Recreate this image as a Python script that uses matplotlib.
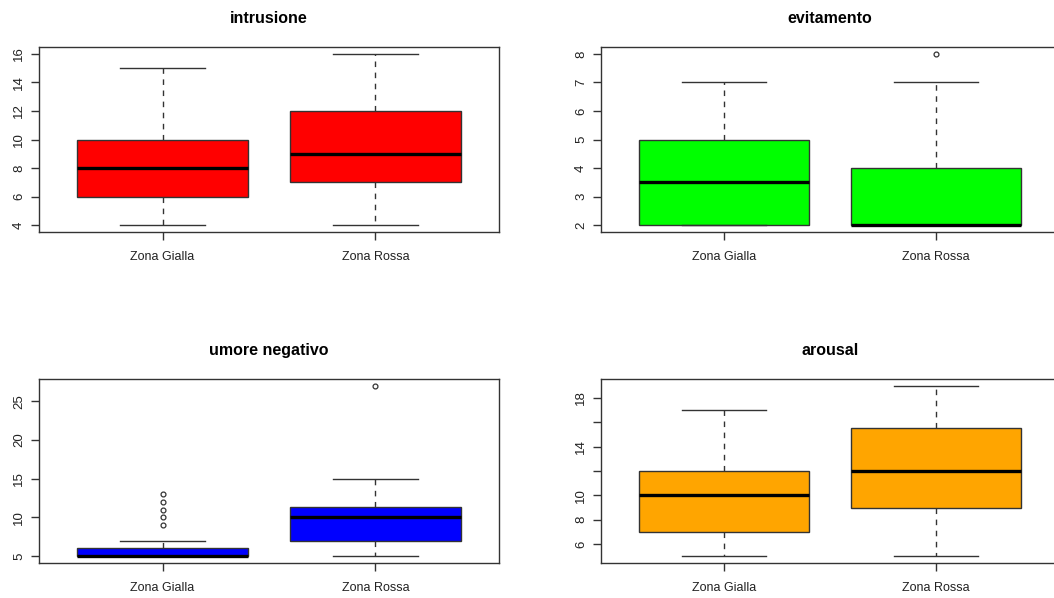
import numpy as np
import matplotlib
matplotlib.use("Agg")
import matplotlib.pyplot as plt

plt.rcParams['font.family'] = ['Liberation Sans', 'DejaVu Sans']

gruppi = ["Zona Gialla", "Zona Rossa"]

# five-number summaries per group: whislo, q1, med, q3, whishi
intrusione = [[4, 6, 8, 10, 15], [4, 7, 9, 12, 16]]
intrusione_out = [[], []]

evitamento = [[2, 2, 3.5, 5, 7], [2, 2, 2, 4, 7]]
evitamento_out = [[], [8]]

umore_neg = [[5, 5, 5, 6, 7], [5, 7, 10, 11.4, 15]]
umore_neg_out = [[9, 10, 11, 12, 13], [27]]

arousal = [[5, 7, 10, 12, 17], [5, 9, 12, 15.5, 19]]
arousal_out = [[], []]

pannelli = [
    ("intrusione", intrusione, intrusione_out, "#FF0000", [4, 6, 8, 10, 12, 14, 16], None),
    ("evitamento", evitamento, evitamento_out, "#00FF00", [2, 3, 4, 5, 6, 7, 8], None),
    ("umore negativo", umore_neg, umore_neg_out, "#0000FF", [5, 10, 15, 20, 25], None),
    ("arousal", arousal, arousal_out, "#FFA500", [6, 8, 10, 12, 14, 16, 18],
     ["6", "8", "10", "", "14", "", "18"]),
]

W, H = 1054, 598
# axes boxes in pixels: left, top, right, bottom
box_px = [(39, 47, 499, 232), (601, 47, 1059, 232),
          (39, 379, 499, 563), (601, 379, 1059, 563)]

fig = plt.figure(figsize=(W / 100, H / 100), dpi=100)
grigio = "#333333"

for (titolo, stats, outl, col, yt, ytl), (l, t, r, b) in zip(pannelli, box_px):
    ax = fig.add_axes([l / W, 1 - b / H, (r - l) / W, (b - t) / H])
    bxp_stats = []
    for nome, s, o in zip(gruppi, stats, outl):
        bxp_stats.append(dict(label=nome, whislo=s[0], q1=s[1], med=s[2],
                              q3=s[3], whishi=s[4], fliers=o))
    ax.bxp(bxp_stats, positions=[1, 2], widths=0.8, capwidths=0.4,
           patch_artist=True, showfliers=True,
           boxprops=dict(facecolor=col, edgecolor=grigio, linewidth=1),
           medianprops=dict(color="black", linewidth=2.4, solid_capstyle="butt"),
           whiskerprops=dict(color=grigio, linewidth=1, linestyle=(0, (4, 4))),
           capprops=dict(color=grigio, linewidth=1),
           flierprops=dict(marker="o", markersize=3.5, markerfacecolor="none",
                           markeredgecolor=grigio, markeredgewidth=0.9))
    # R-style 4% axis extension
    vals = [v for s in stats for v in s] + [v for o in outl for v in o]
    lo, hi = min(vals), max(vals)
    d = (hi - lo) * 0.04
    ax.set_ylim(lo - d, hi + d)
    ax.set_xlim(0.42, 2.58)
    ax.set_yticks(yt)
    if ytl is not None:
        ax.set_yticklabels(ytl)
    ax.set_xticks([1, 2])
    ax.set_xticklabels(gruppi)
    for lab in ax.get_yticklabels():
        lab.set_rotation(90)
        lab.set_va("center")
    ax.tick_params(axis="both", direction="out", length=6, width=1,
                   color=grigio, labelsize=9, labelcolor="#222222")
    ax.tick_params(axis="y", pad=4, labelsize=9.5)
    ax.tick_params(axis="x", pad=8)
    for sp in ax.spines.values():
        sp.set_color(grigio)
        sp.set_linewidth(1)
    ax.set_title(titolo, fontsize=11.5, fontweight="bold", pad=17)

fig.savefig("out.png", dpi=100)
